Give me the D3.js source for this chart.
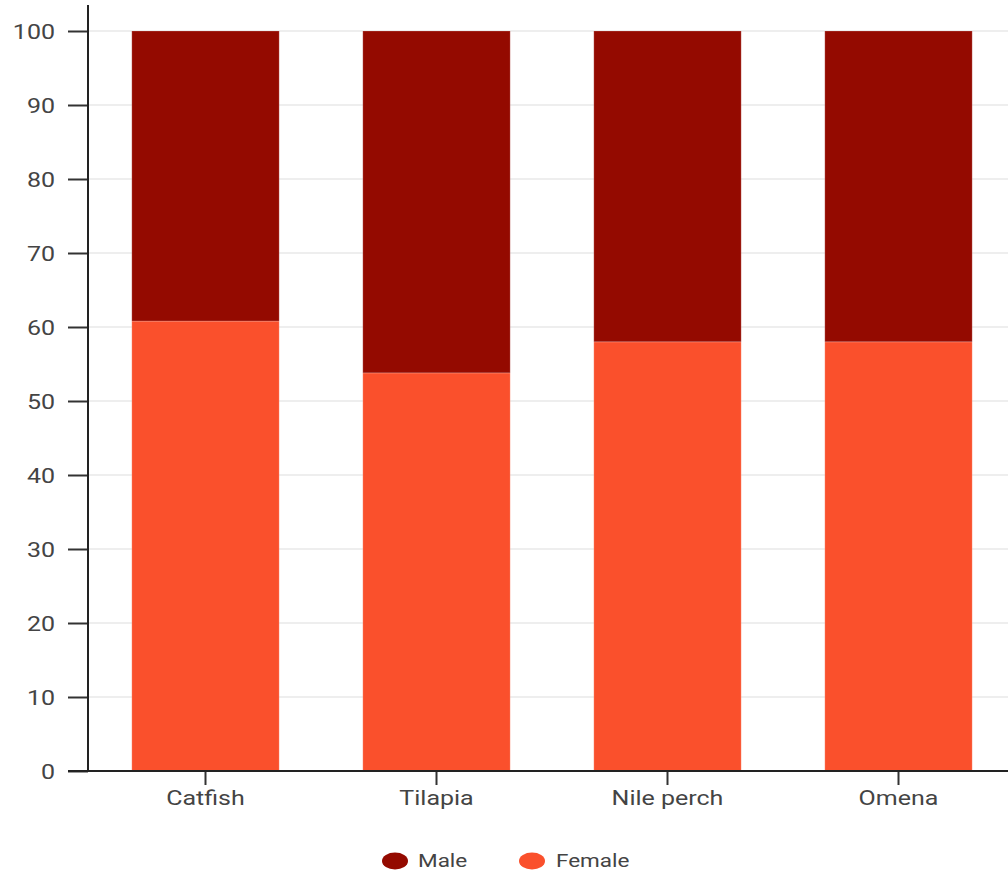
<!DOCTYPE html>
<html><head><meta charset="utf-8">
<script src="https://cdn.jsdelivr.net/npm/d3@7"></script>
<style>
html,body{margin:0;padding:0;background:#fff;}
text{font-family:Roboto,"Noto Sans",sans-serif;fill:#444;}
</style></head>
<body>
<svg id="chart" width="1008" height="872"></svg>
<script>
const categories = ["Catfish", "Tilapia", "Nile perch", "Omena"];
const female = [60.8, 53.8, 58.0, 58.0];
const male = [39.2, 46.2, 42.0, 42.0];
const yTicks = [0, 10, 20, 30, 40, 50, 60, 70, 80, 90, 100];
const seriesNames = ["Male", "Female"];
const colors = {Male: "#940a00", Female: "#fa502c"};

const svg = d3.select("#chart");
const SX = 1.25;

const x = d3.scaleBand().domain(categories).range([90, 1014]).paddingInner(0.362).paddingOuter(0.181);
const y = d3.scaleLinear().domain([0, 100]).range([771, 31]);

// gridlines
svg.append("g").selectAll("line").data(yTicks.filter(d => d > 0)).join("line")
  .attr("x1", 88).attr("x2", 1008)
  .attr("y1", d => y(d)).attr("y2", d => y(d))
  .attr("stroke", "#e8e8e8").attr("stroke-width", 1.5);

// stacked data
const rows = categories.map((c, i) => ({cat: c, Female: female[i], Male: male[i]}));
const stack = d3.stack().keys(["Female", "Male"])(rows);

svg.append("g").selectAll("g").data(stack).join("g")
  .attr("fill", s => colors[s.key])
  .selectAll("rect").data(s => s).join("rect")
  .attr("x", d => x(d.data.cat))
  .attr("width", x.bandwidth())
  .attr("y", d => y(d[1]))
  .attr("height", d => y(d[0]) - y(d[1]))
  .attr("stroke", "rgba(255,255,255,0.2)").attr("stroke-width", 1);

// y axis
const yAxis = svg.append("g").attr("transform", "translate(88,0)")
  .call(d3.axisLeft(y).tickValues(yTicks).tickSize(20).tickSizeOuter(0));
yAxis.select(".domain").remove();
yAxis.append("line").attr("x1", 0).attr("x2", 0).attr("y1", 5).attr("y2", 771)
  .attr("stroke", "#222").attr("stroke-width", 2);
yAxis.selectAll(".tick line").attr("stroke", "#333").attr("stroke-width", 2);
yAxis.selectAll(".tick text")
  .attr("x", null).attr("dy", null)
  .attr("transform", `translate(-33,7) scale(${SX},1)`)
  .attr("text-anchor", "end")
  .style("font-size", "20px").style("fill", "#444");

// x axis
const xAxis = svg.append("g").attr("transform", "translate(0,771)")
  .call(d3.axisBottom(x).tickSize(14).tickSizeOuter(0));
xAxis.select(".domain").remove();
xAxis.append("line").attr("x1", 68).attr("x2", 1008).attr("y1", 0).attr("y2", 0)
  .attr("stroke", "#222").attr("stroke-width", 2);
xAxis.selectAll(".tick line").attr("stroke", "#333").attr("stroke-width", 2);
xAxis.selectAll(".tick text")
  .attr("y", null).attr("dy", null)
  .attr("transform", `translate(0,34) scale(${SX},1)`)
  .attr("text-anchor", "middle")
  .style("font-size", "20px").style("fill", "#444");

// legend
const legendPos = [{cx: 395, tx: 418}, {cx: 532, tx: 556}];
const lg = svg.append("g");
seriesNames.forEach((n, i) => {
  lg.append("ellipse").attr("cx", legendPos[i].cx).attr("cy", 861).attr("rx", 13).attr("ry", 8.5)
    .attr("fill", colors[n]);
  lg.append("text").text(n)
    .attr("transform", `translate(${legendPos[i].tx},867) scale(${SX},1)`)
    .style("font-size", "18px").style("fill", "#444");
});
</script>
</body></html>
